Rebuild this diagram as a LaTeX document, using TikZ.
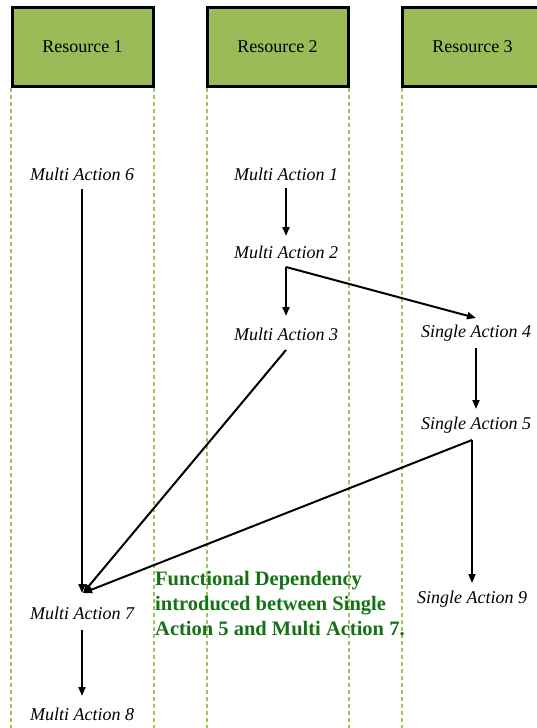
\documentclass[tikz,border=0pt]{standalone}
\usepackage{fontspec}
\setmainfont{Liberation Serif}
\usetikzlibrary{arrows.meta}
\definecolor{resgreen}{HTML}{9BBB59}
\definecolor{lanegreen}{HTML}{9CC45E}
\definecolor{notegreen}{HTML}{137213}
\begin{document}
\begin{tikzpicture}[x=1pt,y=-1pt,
  resbox/.style={draw=black,line width=3pt,fill=resgreen,minimum width=141pt,minimum height=79pt,inner sep=0pt,font=\fontsize{18}{20}\selectfont},
  lane/.style={draw=lanegreen,line width=1.1pt,dash pattern=on 4pt off 3pt},
  act/.style={font=\itshape\fontsize{18}{20}\selectfont,inner sep=1pt},
  flow/.style={draw=black,line width=2pt,-{Triangle[length=9pt,width=7pt]}},
  plain/.style={draw=black,line width=2pt}]
\useasboundingbox (0,0) rectangle (537,728);
% lanes
\foreach \x in {11,154,207,349,402}{\draw[lane] (\x,88) -- (\x,728);}
% resource headers
\node[resbox] (r1) at (82.5,47) {Resource 1};
\node[resbox] (r2) at (277.5,47) {Resource 2};
\node[resbox] (r3) at (472.5,47) {Resource 3};
% actions
\node[act] (m6) at (82,174) {Multi Action 6};
\node[act] (m1) at (286,174) {Multi Action 1};
\node[act] (m2) at (286,252) {Multi Action 2};
\node[act] (m3) at (286,334) {Multi Action 3};
\node[act] (s4) at (476,333) {Single Action 4};
\node[act] (s5) at (476,425) {Single Action 5};
\node[act] (s9) at (472,599) {Single Action 9};
\node[act] (m7) at (82,613) {Multi Action 7};
\node[act] (m8) at (82,714) {Multi Action 8};
% connector anchors
\coordinate (m1b) at (286,188);
\coordinate (m2t) at (286,236);
\coordinate (m2b) at (286,267);
\coordinate (m3t) at (286,316);
\coordinate (s4t) at (476,318);
\coordinate (m3b) at (286,350);
\coordinate (s4b) at (476,348);
\coordinate (s5t) at (476,409);
\coordinate (s5b) at (472,440);
\coordinate (s9t) at (472,583);
\coordinate (m6b) at (82,189);
\coordinate (m7t) at (83,593);
\coordinate (m7b) at (82,630);
\coordinate (m8t) at (82,696);
% connectors
\draw[flow] (m1b) -- (m2t);
\draw[flow] (m2b) -- (m3t);
\draw[flow] (m2b) -- (s4t);
\draw[flow] (s4b) -- (s5t);
\draw[flow] (s5b) -- (s9t);
\draw[flow] (s5b) -- (m7t);
\draw[flow] (m3b) -- (m7t);
\draw[flow] (m6b) -- (m6b |- m7t);
\draw[flow] (m7b) -- (m8t);
% note
\node[anchor=north west,align=left,text=notegreen,inner sep=0pt,
      font=\bfseries\fontsize{20.5}{25}\selectfont] (note) at (155,571)
  {Functional Dependency\\introduced between Single\\Action 5 and Multi Action 7.};
\end{tikzpicture}
\end{document}
